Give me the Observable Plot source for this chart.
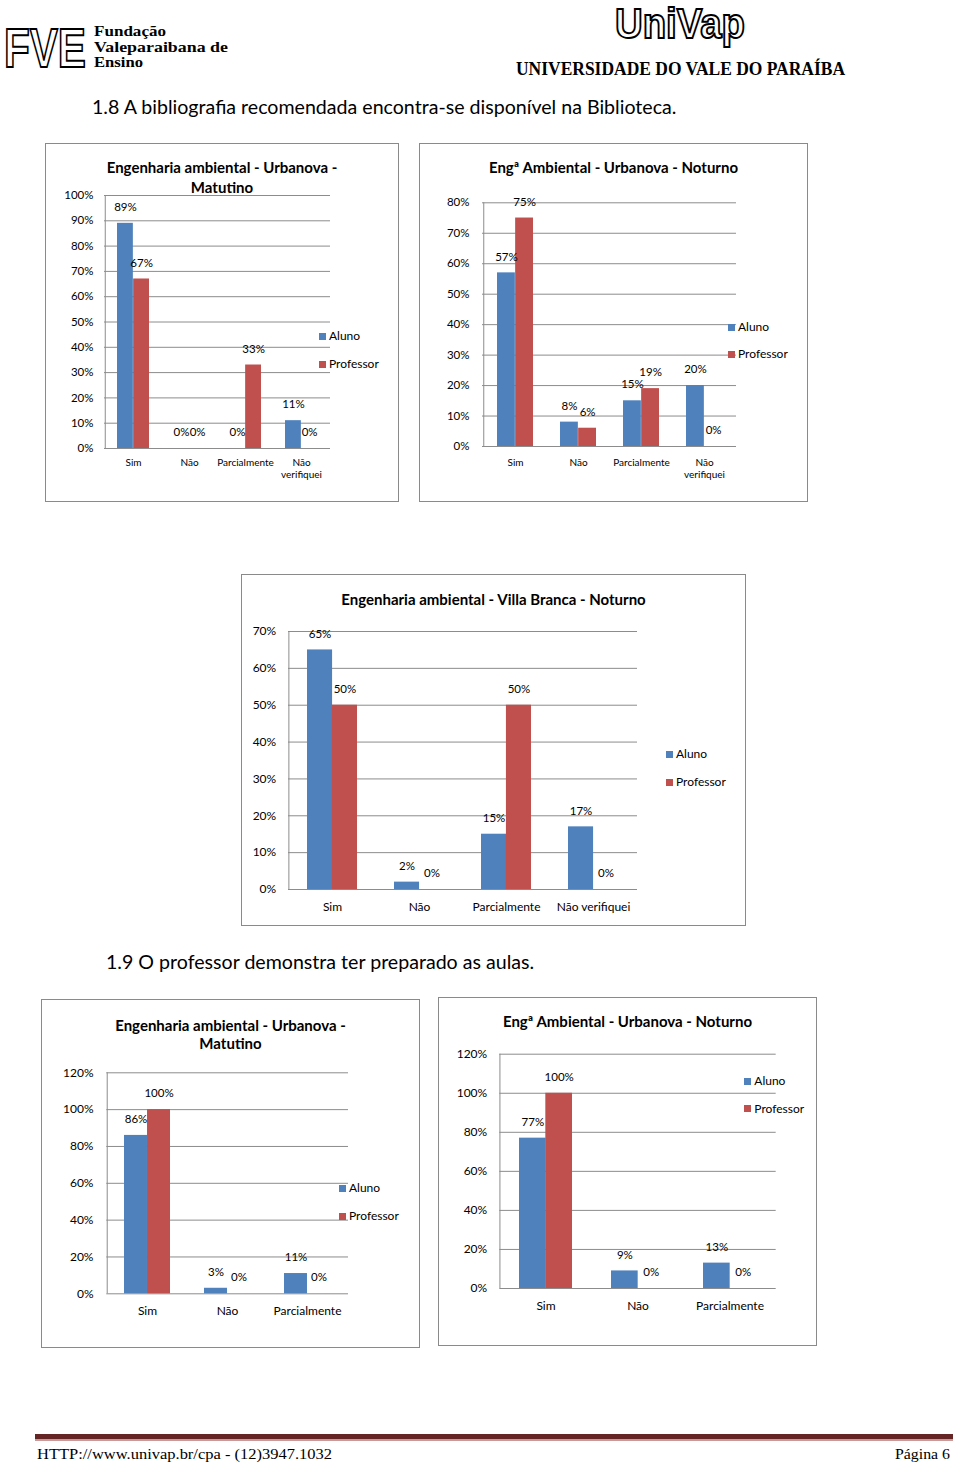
<!DOCTYPE html>
<html><head><meta charset="utf-8">
<script src="https://cdn.jsdelivr.net/npm/d3@7"></script>
<script src="https://cdn.jsdelivr.net/npm/@observablehq/plot@0.6"></script>
<style>
html,body{margin:0;padding:0;background:#fff}
body{width:960px;height:1465px;position:relative;overflow:hidden;font-family:Lato,"Open Sans",sans-serif;color:#000}
.abs{position:absolute}
.box{position:absolute;border:1px solid #8a8a8a;box-sizing:border-box;background:#fff}
.title{position:absolute;text-align:center;font-weight:bold;font-size:15px;white-space:pre;color:#000}
.leg{position:absolute;font-size:12px;white-space:nowrap;line-height:14px}
.sq{position:absolute;width:7px;height:7px}
.heading{position:absolute;font-size:19.6px;white-space:nowrap;line-height:22px}
</style></head>
<body>
<script>
// ---------- data ----------
const series = ["Aluno", "Professor"];
const seriesColors = ["#4F81BD", "#C0504D"];

const categories4 = ["Sim", "Não", "Parcialmente", "Não verifiquei"];
const categories3 = ["Sim", "Não", "Parcialmente"];
const tickLabels4Wrapped = ["Sim", "Não", "Parcialmente", "Não\nverifiquei"];
const tickLabels4 = ["Sim", "Não", "Parcialmente", "Não verifiquei"];
const tickLabels3 = ["Sim", "Não", "Parcialmente"];

const heading1 = "1.8 A bibliografia recomendada encontra-se disponível na Biblioteca.";
const heading2 = "1.9 O professor demonstra ter preparado as aulas.";

const c1Title = "Engenharia ambiental - Urbanova -\nMatutino";
const c1Aluno = [89, 0, 0, 11];
const c1Professor = [67, 0, 33, 0];
const c1Ticks = [0, 10, 20, 30, 40, 50, 60, 70, 80, 90, 100];

const c2Title = "Engª Ambiental - Urbanova - Noturno";
const c2Aluno = [57, 8, 15, 20];
const c2Professor = [75, 6, 19, 0];
const c2Ticks = [0, 10, 20, 30, 40, 50, 60, 70, 80];

const c3Title = "Engenharia ambiental - Villa Branca - Noturno";
const c3Aluno = [65, 2, 15, 17];
const c3Professor = [50, 0, 50, 0];
const c3Ticks = [0, 10, 20, 30, 40, 50, 60, 70];

const c4Title = "Engenharia ambiental - Urbanova -\nMatutino";
const c4Aluno = [86, 3, 11];
const c4Professor = [100, 0, 0];
const c4Ticks = [0, 20, 40, 60, 80, 100, 120];

const c5Title = "Engª Ambiental - Urbanova - Noturno";
const c5Aluno = [77, 9, 13];
const c5Professor = [100, 0, 0];
const c5Ticks = [0, 20, 40, 60, 80, 100, 120];

const footerLeft = "HTTP://www.univap.br/cpa - (12)3947.1032";
const footerRight = "Página 6";

// ---------- page helpers ----------
const GRID = "#8c8c8c";
function el(tag, cls, css, text) {
  const e = document.createElement(tag);
  if (cls) e.className = cls;
  Object.assign(e.style, css);
  if (text != null) e.textContent = text;
  document.body.appendChild(e);
  return e;
}

// header (logos as text)
const NS = "http://www.w3.org/2000/svg";
const hdr = document.createElementNS(NS, "svg");
hdr.setAttribute("width", 960); hdr.setAttribute("height", 90);
hdr.style.position = "absolute"; hdr.style.left = "0px"; hdr.style.top = "0px";
hdr.innerHTML = `
  <text transform="translate(4,67) scale(1,1.3)" font-family="Liberation Sans, sans-serif" font-weight="bold" font-size="42"
        textLength="82" lengthAdjust="spacingAndGlyphs" fill="#fff" stroke="#000" stroke-width="1.5">FVE</text>
  <g font-family="Liberation Serif, serif" font-weight="bold" font-size="14" fill="#000">
    <text x="94" y="36" textLength="72" lengthAdjust="spacingAndGlyphs">Fundação</text>
    <text x="94" y="51.5" textLength="134" lengthAdjust="spacingAndGlyphs">Valeparaibana  de</text>
    <text x="94" y="67" textLength="49" lengthAdjust="spacingAndGlyphs">Ensino</text>
  </g>
  <text x="615" y="38" font-family="Liberation Sans Narrow, Liberation Sans, sans-serif" font-weight="bold" font-size="42"
        textLength="130" lengthAdjust="spacingAndGlyphs" fill="#fff" stroke="#000" stroke-width="2">UniVap</text>
  <text x="516" y="75" font-family="Liberation Serif, serif" font-weight="bold" font-size="18"
        textLength="329" lengthAdjust="spacingAndGlyphs" fill="#000">UNIVERSIDADE DO VALE DO PARAÍBA</text>`;
document.body.appendChild(hdr);

el("div", "heading", {left: "92px", top: "96px"}, heading1);
el("div", "heading", {left: "106px", top: "951px"}, heading2);

// footer
el("div", "abs", {left: "35px", top: "1434px", width: "918px", height: "5px", background: "#652525"});
el("div", "abs", {left: "35px", top: "1439px", width: "918px", height: "2px", background: "#c99a9a"});
const ftr = document.createElementNS(NS, "svg");
ftr.setAttribute("width", 960); ftr.setAttribute("height", 25);
ftr.style.position = "absolute"; ftr.style.left = "0px"; ftr.style.top = "1440px";
ftr.innerHTML = `<g font-family="Liberation Serif, serif" font-size="15" fill="#000">
  <text x="37" y="18.5" textLength="295" lengthAdjust="spacingAndGlyphs">${footerLeft}</text>
  <text x="950" y="18.5" text-anchor="end" textLength="55" lengthAdjust="spacingAndGlyphs">${footerRight}</text></g>`;
document.body.appendChild(ftr);

// ---------- chart ----------
function drawChart(cats, tickLabels, aluno, professor, ticks, title, L) {
  const rows = cats.map((c, i) => ({cat: c, aluno: aluno[i], professor: professor[i]}));
  const step = (L.plot.right - L.plot.left) / cats.length;
  const bw = step * 2 / 3.5;
  const ymax = ticks[ticks.length - 1];

  el("div", "box", {left: L.box.x + "px", top: L.box.y + "px", width: L.box.w + "px", height: L.box.h + "px"});

  const chart = Plot.plot({
    width: L.box.w,
    height: L.box.h,
    marginLeft: L.plot.left - L.box.x,
    marginRight: L.box.x + L.box.w - L.plot.right,
    marginTop: L.plot.top - L.box.y,
    marginBottom: L.box.y + L.box.h - L.plot.bottom,
    style: {fontFamily: "Lato, 'Open Sans', sans-serif", fontSize: "11.5px", color: "#000", background: "none", overflow: "visible"},
    x: {type: "band", domain: cats, paddingInner: 1.5 / 3.5, paddingOuter: 0.75 / 3.5, label: null},
    y: {domain: [0, ymax], label: null},
    marks: [
      Plot.gridY(ticks, {stroke: GRID, strokeOpacity: 1}),
      Plot.ruleX([cats[0]], {dx: -step / 2, stroke: GRID}),
      Plot.barY(rows, {x: "cat", y: "aluno", fill: seriesColors[0], insetLeft: 0, insetRight: bw / 2}),
      Plot.barY(rows, {x: "cat", y: "professor", fill: seriesColors[1], insetLeft: bw / 2, insetRight: 0}),
      Plot.text(rows, {x: "cat", y: "aluno", text: d => d.aluno + "%", dx: -bw / 4, dy: -16, fontSize: 11.5, fill: "#000"}),
      Plot.text(rows, {x: "cat", y: "professor", text: d => d.professor + "%", dx: bw / 4, dy: -16, fontSize: 11.5, fill: "#000"}),
      Plot.axisY(ticks, {tickSize: 0, tickPadding: L.yPad, tickFormat: d => d + "%", fontSize: L.yFont, fill: "#000", label: null}),
      Plot.axisX({tickSize: 0, tickPadding: L.xPad, tickFormat: d => tickLabels[cats.indexOf(d)], fontSize: L.xFont, lineHeight: 1.25, fill: "#000", label: null})
    ]
  });
  chart.style.position = "absolute";
  chart.style.left = L.box.x + "px";
  chart.style.top = L.box.y + "px";
  document.body.appendChild(chart);

  el("div", "title", {left: L.box.x + "px", width: L.box.w + "px", top: (L.title.cy - L.title.lh / 2) + "px",
    lineHeight: L.title.lh + "px"}, title);

  series.forEach((s, i) => {
    const cy = L.legend.y[i];
    el("div", "sq", {left: L.legend.sx + "px", top: (cy - 3.5) + "px", background: seriesColors[i]});
    el("div", "leg", {left: (L.legend.sx + 10) + "px", top: (cy - 7) + "px"}, s);
  });
}

drawChart(categories4, tickLabels4Wrapped, c1Aluno, c1Professor, c1Ticks, c1Title, {
  box: {x: 45, y: 143, w: 354, h: 359}, plot: {left: 104, right: 330, top: 195, bottom: 448},
  yPad: 11, yFont: 11.5, xPad: 8.5, xFont: 10, title: {cy: 166.7, lh: 20}, legend: {sx: 319, y: [336, 364]}
});
drawChart(categories4, tickLabels4Wrapped, c2Aluno, c2Professor, c2Ticks, c2Title, {
  box: {x: 419, y: 143, w: 389, h: 359}, plot: {left: 482, right: 736, top: 202.3, bottom: 446},
  yPad: 13, yFont: 11.5, xPad: 10.5, xFont: 10, title: {cy: 166.7, lh: 20}, legend: {sx: 728, y: [327.3, 354.3]}
});
drawChart(categories4, tickLabels4, c3Aluno, c3Professor, c3Ticks, c3Title, {
  box: {x: 241, y: 574, w: 505, h: 352}, plot: {left: 288, right: 637, top: 631, bottom: 889},
  yPad: 12.3, yFont: 12, xPad: 11.2, xFont: 12, title: {cy: 599, lh: 20}, legend: {sx: 666, y: [754.3, 782]}
});
drawChart(categories3, tickLabels3, c4Aluno, c4Professor, c4Ticks, c4Title, {
  box: {x: 41, y: 999, w: 379, h: 349}, plot: {left: 106.3, right: 348, top: 1072.3, bottom: 1293.3},
  yPad: 13.3, yFont: 12, xPad: 10.4, xFont: 12, title: {cy: 1025, lh: 18.3}, legend: {sx: 339, y: [1188.3, 1216]}
});
drawChart(categories3, tickLabels3, c5Aluno, c5Professor, c5Ticks, c5Title, {
  box: {x: 438, y: 997, w: 379, h: 349}, plot: {left: 499.3, right: 775.7, top: 1053.7, bottom: 1288},
  yPad: 12.6, yFont: 12, xPad: 11.2, xFont: 12, title: {cy: 1021.3, lh: 20}, legend: {sx: 744.3, y: [1081.3, 1108.7]}
});
</script>
</body></html>
